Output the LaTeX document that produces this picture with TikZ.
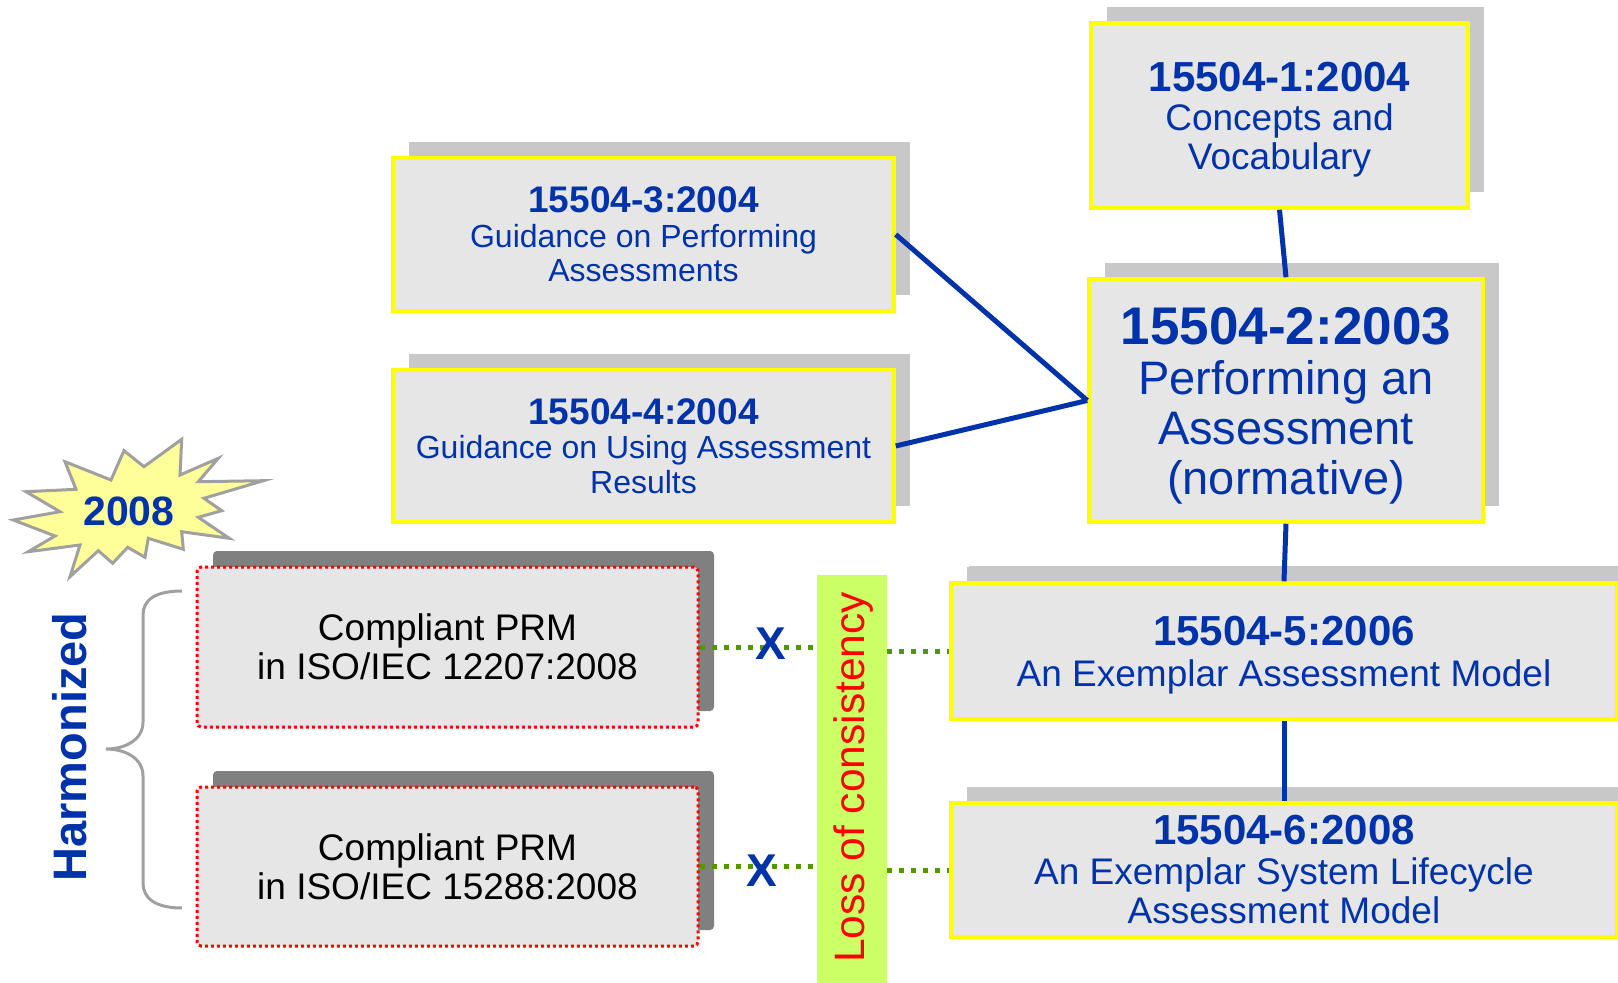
\documentclass[tikz,border=0pt]{standalone}
\usepackage{fontspec}
\setmainfont{Liberation Sans}
\usetikzlibrary{shadows}
\definecolor{boxfill}{RGB}{230,230,230}
\definecolor{shadowgrey}{RGB}{200,200,200}
\definecolor{darkshadow}{RGB}{128,128,128}
\definecolor{isoblue}{RGB}{0,51,170}
\definecolor{dotgreen}{RGB}{82,150,0}
\definecolor{lossfill}{RGB}{204,255,102}
\definecolor{starfill}{RGB}{255,255,153}
\definecolor{stargrey}{RGB}{160,160,160}
\definecolor{pureyellow}{RGB}{255,255,0}
\definecolor{purered}{RGB}{255,0,0}
\newcommand{\nodepth}[1]{\raisebox{0pt}[\height][0pt]{#1}}
\tikzset{
  ybox/.style={draw=pureyellow, line width=3.5pt, fill=boxfill, inner sep=0pt,
    align=center, text=isoblue,
    drop shadow={shadow xshift=16pt, shadow yshift=16pt, fill=shadowgrey, opacity=1}},
  prmbox/.style={draw=purered, line width=3pt, dash pattern=on 3pt off 3pt,
    rounded corners=4pt, fill=boxfill, inner sep=0pt, align=center, text=black,
    font=\fontsize{37}{39}\selectfont,
    drop shadow={shadow xshift=16pt, shadow yshift=16pt, fill=darkshadow, opacity=1, draw=none, solid}},
  bluelink/.style={draw=isoblue, line width=5pt},
  greendot/.style={draw=dotgreen, line width=5pt, dash pattern=on 5pt off 7pt},
  xmark/.style={text=isoblue, font=\fontsize{46}{46}\selectfont\bfseries, inner sep=0pt},
  starstyle/.style={draw=stargrey, line width=3pt, fill=starfill, line join=miter},
  bracestyle/.style={draw=stargrey, line width=3pt},
}
\begin{document}
\begin{tikzpicture}[x=1pt, y=-1pt]
\useasboundingbox (0,0) rectangle (1618,983);
\clip (0,0) rectangle (1618,983);

% starburst
\draw[starstyle] (181.7,439.3) -- (180,475) -- (218.3,458.3) -- (198.3,481.7)
  -- (263.3,480.7) -- (204,498.3) -- (221.7,510.7) -- (198.3,517.3)
  -- (229.3,538.3) -- (181.7,531.7) -- (183.3,549.3) -- (148.3,538.3)
  -- (145,557.3) -- (127.7,547.3) -- (112.7,563.3) -- (98.3,550.7)
  -- (70,576.7) -- (80,545) -- (28.3,551.7) -- (55,536) -- (13.3,520)
  -- (60,511.7) -- (26,491.7) -- (76,489.3) -- (65,461.7) -- (111,480)
  -- (124,450.7) -- (144,466.7) -- cycle;
\node[text=isoblue, font=\fontsize{41}{41}\selectfont\bfseries, inner sep=0pt] (year) at (129,511) {2008};

% ISO boxes
\node[ybox, minimum width=377, minimum height=185, font=\fontsize{37}{39}\selectfont] (b1) at (1279.5,115.5)
  {{\fontsize{42}{39}\selectfont\bfseries 15504-1:2004}\\Concepts and\\\nodepth{Vocabulary}};
\node[ybox, minimum width=394, minimum height=243, font=\fontsize{47}{50}\selectfont] (b2) at (1286,400.5)
  {{\fontsize{53}{50}\selectfont\bfseries 15504-2:2003}\\Performing an\\Assessment\\\nodepth{(normative)}};
\node[ybox, minimum width=501, minimum height=153, font=\fontsize{32}{34.5}\selectfont] (b3) at (643.5,234.5)
  {{\fontsize{37}{34.5}\selectfont\bfseries 15504-3:2004}\\Guidance on Performing\\Assessments};
\node[ybox, minimum width=501, minimum height=152, font=\fontsize{32}{34.5}\selectfont] (b4) at (643.5,446)
  {{\fontsize{37}{34.5}\selectfont\bfseries 15504-4:2004}\\Guidance on Using Assessment\\Results};
\node[ybox, minimum width=666, minimum height=136, font=\fontsize{37}{41}\selectfont,
  drop shadow={shadow xshift=18pt, shadow yshift=17pt, fill=shadowgrey, opacity=1}] (b5) at (1284,651)
  {{\fontsize{42}{41}\selectfont\bfseries 15504-5:2006}\\\nodepth{An Exemplar Assessment Model}};
\node[ybox, minimum width=666, minimum height=134, font=\fontsize{37}{39.5}\selectfont,
  drop shadow={shadow xshift=18pt, shadow yshift=16pt, fill=shadowgrey, opacity=1}] (b6) at (1284,870)
  {{\fontsize{42}{39.5}\selectfont\bfseries 15504-6:2008}\\An Exemplar System Lifecycle\\Assessment Model};

% PRM boxes
\node[prmbox, minimum width=501, minimum height=160] (p1) at (447.5,647)
  {Compliant PRM\\in ISO/IEC 12207:2008};
\node[prmbox, minimum width=501, minimum height=159] (p2) at (447.5,866.5)
  {Compliant PRM\\in ISO/IEC 15288:2008};

% loss of consistency bar
\node[fill=lossfill, minimum width=70, minimum height=412, inner sep=0pt] (loss) at (852,781) {};
\node[rotate=90, text=purered, font=\fontsize{42.5}{42.5}\selectfont, inner sep=0pt] (losstxt) at (854,777.5) {Loss of consistency};

% connectors
\draw[bluelink] (b1.south) -- (b2.north);
\draw[bluelink] (b3.east) -- (b2.west);
\draw[bluelink] (b4.east) -- (b2.west);
\draw[bluelink] (b2.south) -- (b5.north);
\draw[bluelink] (b5.south) -- (b6.north);

\draw[greendot] (p1.east) -- (p1.east -| loss.west);
\draw[greendot] (loss.east |- b5.west) -- (b5.west);
\draw[greendot] (p2.east) -- (p2.east -| loss.west);
\draw[greendot] (loss.east |- b6.west) -- (b6.west);

\node[xmark] (x1) at (771,644) {X};
\node[xmark] (x2) at (762,871) {X};

% harmonized brace
\draw[bracestyle] (182,591) .. controls (155,591) and (143,600) .. (143,615)
  -- (143,722) .. controls (143,740) and (125,749) .. (106,749)
  .. controls (125,749) and (143,758) .. (143,776)
  -- (143,883) .. controls (143,898) and (155,908) .. (182,908);
\node[rotate=90, text=isoblue, font=\fontsize{47}{47}\selectfont\bfseries, inner sep=0pt] (harm) at (70,747) {Harmonized};
\end{tikzpicture}
\end{document}
